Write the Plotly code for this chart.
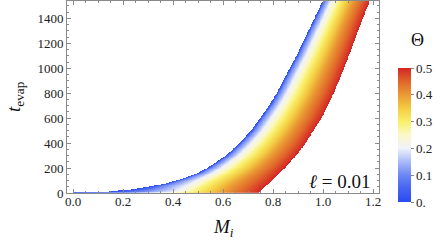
import numpy as np
import plotly.graph_objects as go

# ---- data (M_i where each Theta-curve reaches t_evap) ----
theta_levels = [0.0, 0.1, 0.2, 0.3, 0.4, 0.5]
t_levels = [0, 5, 10, 25, 50, 75, 100, 150, 200, 300, 400, 500, 600, 700,
            800, 900, 1000, 1100, 1200, 1300, 1400, 1500, 1540]
M_theta_00 = [0.00, 0.13, 0.16, 0.23, 0.31, 0.375, 0.42, 0.493, 0.54, 0.615, 0.668, 0.714,
              0.75, 0.786, 0.816, 0.842, 0.868, 0.895, 0.919, 0.943, 0.967, 0.99, 1.0]
M_theta_01 = [0.22, 0.27, 0.29, 0.32, 0.36, 0.40, 0.44, 0.51, 0.555, 0.629, 0.681, 0.727,
              0.762, 0.798, 0.828, 0.853, 0.879, 0.906, 0.929, 0.953, 0.977, 1.0, 1.009]
M_theta_02 = [0.36, 0.40, 0.415, 0.43, 0.45, 0.475, 0.50, 0.553, 0.596, 0.665, 0.716, 0.759,
              0.794, 0.828, 0.857, 0.882, 0.907, 0.933, 0.956, 0.979, 1.002, 1.024, 1.034]
M_theta_03 = [0.46, 0.49, 0.50, 0.51, 0.53, 0.55, 0.57, 0.619, 0.658, 0.721, 0.769, 0.809,
              0.844, 0.875, 0.903, 0.927, 0.951, 0.975, 0.997, 1.019, 1.041, 1.063, 1.072]
M_theta_04 = [0.59, 0.605, 0.61, 0.62, 0.635, 0.652, 0.67, 0.708, 0.742, 0.797, 0.84, 0.877,
              0.91, 0.938, 0.965, 0.988, 1.01, 1.032, 1.052, 1.072, 1.093, 1.114, 1.123]
M_theta_05 = [0.745, 0.75, 0.752, 0.759, 0.77, 0.785, 0.799, 0.824, 0.85, 0.895, 0.933, 0.964,
              0.996, 1.02, 1.045, 1.066, 1.086, 1.105, 1.124, 1.142, 1.161, 1.181, 1.189]

x_ticks = [0.0, 0.2, 0.4, 0.6, 0.8, 1.0, 1.2]
y_ticks = [0, 200, 400, 600, 800, 1000, 1200, 1400]
cb_ticks = [0.0, 0.1, 0.2, 0.3, 0.4, 0.5]
cb_labels = ["0.", "0.1", "0.2", "0.3", "0.4", "0.5"]
ell_value = "0.01"

curves = [M_theta_00, M_theta_01, M_theta_02, M_theta_03, M_theta_04, M_theta_05]

# ---- build the Theta field on a grid from the read curves ----
x_range = [-0.024, 1.224]
y_range = [0, 1540]
xs = np.linspace(x_range[0], x_range[1], 700)
ys = np.linspace(y_range[0], y_range[1], 420)
Z = np.full((len(ys), len(xs)), np.nan)
for i, t in enumerate(ys):
    m_at_t = np.array([np.interp(t, t_levels, c) for c in curves])
    row = np.interp(xs, m_at_t, theta_levels)
    row[(xs < m_at_t[0]) | (xs > m_at_t[-1])] = np.nan
    Z[i] = row

colorscale = [
    [0.0, "#2a4cf0"], [0.1, "#4563f2"], [0.2, "#6c86f4"], [0.3, "#a9baf7"],
    [0.4, "#f0f2fa"], [0.5, "#fbf8c8"], [0.6, "#f9f06a"], [0.7, "#f3cc42"],
    [0.8, "#ea9a34"], [0.9, "#e0662a"], [1.0, "#d42525"],
]

W, H = 444, 248
L, R, T, B = 67, 379, 1, 193
pw, ph = R - L, B - T

def px(x):
    return (x - L) / pw

def py(y):
    return (B - y) / ph

fig = go.Figure()
fig.add_trace(go.Heatmap(
    x=xs, y=ys, z=Z, zmin=0, zmax=0.5, zsmooth=False,
    colorscale=colorscale, hoverinfo="skip",
    colorbar=dict(
        x=px(398), xanchor="left", xpad=0,
        y=py(202), yanchor="bottom", ypad=0,
        lenmode="pixels", len=134, thickness=13,
        outlinewidth=0,
        tickvals=cb_ticks, ticktext=cb_labels,
        ticks="outside", ticklen=3, tickcolor="#888",
        tickfont=dict(family="Liberation Serif", size=13, color="#222"),
    ),
))

axis_common = dict(
    showline=True, linecolor="#8a8a8a", linewidth=1, mirror="ticks",
    ticks="inside", ticklen=4, tickcolor="#8a8a8a", tickwidth=1,
    showgrid=False, zeroline=False,
    tickfont=dict(family="Liberation Serif", size=13, color="#222"),
)
fig.update_xaxes(range=x_range, tickvals=x_ticks, tickformat=".1f",
                 ticklabelstandoff=-4,
                 minor=dict(ticks="inside", dtick=0.05, ticklen=2, tickcolor="#8a8a8a", showgrid=False),
                 **axis_common)
fig.update_yaxes(range=y_range, tickvals=y_ticks,
                 minor=dict(ticks="inside", dtick=50, ticklen=2, tickcolor="#8a8a8a", showgrid=False),
                 **axis_common)

ann_font = dict(family="Liberation Serif", size=19, color="#111")
fig.add_annotation(xref="paper", yref="paper", x=px(15), y=py(97),
                   xanchor="center", yanchor="middle",
                   text="<i>t</i><sub>evap</sub>", textangle=-90, showarrow=False,
                   font=ann_font)
fig.add_annotation(xref="paper", yref="paper", x=px(223), y=py(228),
                   xanchor="center", yanchor="middle",
                   text="<i>M</i><sub><i>i</i></sub>", showarrow=False,
                   font=ann_font)
fig.add_annotation(xref="paper", yref="paper", x=px(417), y=py(40),
                   xanchor="center", yanchor="middle",
                   text="\u0398", showarrow=False,
                   font=dict(family="Liberation Serif", size=18, color="#111"))
fig.add_annotation(xref="paper", yref="paper", x=px(372), y=py(181),
                   xanchor="right", yanchor="middle",
                   text="<span style='font-family:DejaVu Serif'><i>\u2113</i></span> = " + ell_value,
                   showarrow=False, font=ann_font)

fig.update_layout(
    width=W, height=H,
    margin=dict(l=L, r=W - R, t=T, b=H - B, pad=0, autoexpand=False),
    plot_bgcolor="white", paper_bgcolor="white",
    showlegend=False,
)
fig.write_html("out.html", config={"displayModeBar": False},
               post_script="document.body.style.margin='0px';")
